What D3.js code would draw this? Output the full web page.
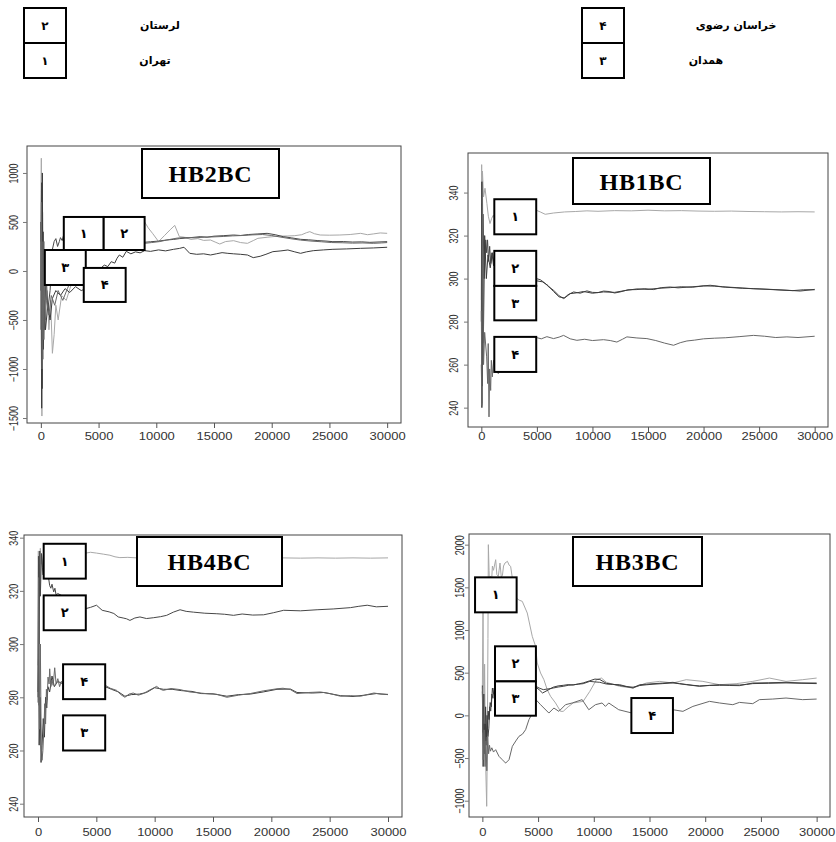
<!DOCTYPE html>
<html>
<head>
<meta charset="utf-8">
<script src="https://cdn.jsdelivr.net/npm/d3@7"></script>
<style>
  body { margin: 0; background: #fff; }
  svg { display: block; }
</style>
</head>
<body>
<div id="chart"></div>
<script>
// iteration axis shared by all four panels
const xTicks = [0, 5000, 10000, 15000, 20000, 25000, 30000];
const xDomain = [-1200, 31200];

// legend: chain number -> province
const legendLeft = [["۲", "لرستان"], ["۱", "تهران"]];
const legendRight = [["۴", "خراسان  رضوی"], ["۳", "همدان"]];

// HB2BC running means, chains 1..4  [iteration, value]
const hb2_1 = [[0,300],[40,1150],[90,-1480],[150,600],[220,-900],[300,300],[400,-500],[550,-200],[700,-600],[850,-300],[1000,-840],[1150,-650],[1300,-350],[1500,-500],[1800,-250],[2200,-300],[2600,-150],[3000,-60],[3500,250],[4500,350],[7000,420],[8990,500],[9300,440],[9700,380],[10200,300],[10700,360],[11200,420],[11600,465],[12000,350],[12400,345],[13000,322],[13600,330],[14100,312],[14700,316],[15100,295],[15500,275],[16000,300],[16700,309],[17300,290],[17900,282],[18400,310],[18800,333],[19600,344],[20500,355],[21400,357],[22000,360],[22600,370],[23000,390],[23300,401],[23700,380],[24200,367],[25000,365],[25900,367],[26800,372],[27700,384],[28300,370],[28800,378],[29400,388],[30000,384]];
const hb2_2 = [[0,-200],[60,900],[120,-1200],[200,400],[300,-600],[450,0],[600,-400],[800,-200],[1000,220],[1150,300],[1300,330],[1450,250],[1600,300],[1700,340],[1850,310],[2000,380],[3000,400],[5000,350],[7000,320],[8990,293],[9500,298],[10200,305],[10900,316],[11500,322],[12000,330],[12800,338],[13800,350],[14400,345],[15000,355],[15800,360],[16700,367],[17300,362],[18000,372],[18800,378],[19600,384],[20300,370],[21000,350],[21700,338],[22500,323],[23200,318],[24000,310],[24700,305],[25300,299],[26200,300],[27000,295],[27800,297],[28500,292],[29300,296],[30000,299]];
const hb2_3 = [[0,500],[70,-1400],[130,1000],[200,-800],[300,-300],[400,-600],[600,-350],[800,-500],[1000,-280],[1300,-200],[1700,-250],[2100,-180],[2500,-220],[3000,-160],[3500,-200],[4500,-150],[5200,30],[5500,60],[5800,45],[6100,95],[6400,80],[6600,130],[6800,163],[7100,140],[7400,200],[7800,175],[8200,195],[8600,185],[8990,207],[9500,200],[10200,215],[10800,205],[11500,221],[12000,230],[12400,242],[12900,180],[13500,170],[14100,175],[14700,163],[15200,175],[15700,187],[16200,180],[16700,175],[17300,170],[17900,163],[18400,136],[19000,150],[19500,170],[20100,197],[20800,205],[21400,214],[22000,195],[22500,180],[23000,195],[23600,207],[24500,215],[25300,221],[26500,225],[27700,231],[28800,235],[30000,242]];
const hb2_4 = [[0,-600],[50,700],[110,-1000],[180,300],[260,-700],[350,100],[500,-300],[700,-450],[900,-250],[1200,-350],[1500,-200],[1900,-300],[2300,-180],[2600,-100],[3000,100],[3500,300],[5000,320],[7000,300],[8990,282],[9600,290],[10300,300],[11000,318],[11800,335],[12500,342],[13300,338],[14200,345],[15000,348],[15800,352],[16600,358],[17500,362],[18300,368],[19200,372],[20000,362],[20800,345],[21600,330],[22500,315],[23400,305],[24300,298],[25200,290],[26100,288],[27000,284],[27900,286],[28800,282],[29500,286],[30000,290]];

// HB1BC
const hb1_1 = [[0,290],[30,353],[60,242],[100,350],[200,338],[330,342],[500,335],[630,329],[780,325.6],[930,328],[1080,329.5],[1200,328],[3000,330],[4940,331.8],[5300,331],[5750,329.9],[6500,330.5],[7500,331],[8500,331.2],[9500,331.5],[10500,331.3],[12000,331.6],[13500,331.5],[15000,331.8],[16500,331.5],[18000,331.6],[19500,331.4],[21000,331.3],[22500,331.4],[24000,331.2],[25500,331.1],[27000,331],[28500,331.1],[30000,331]];
const hb1_2 = [[0,280],[40,345],[80,250],[150,330],[250,300],[400,318],[480,312],[560,318],[650,308],[750,315],[850,307],[950,312],[1100,306],[1300,309],[3000,303],[4940,300],[5300,299.5],[5700,298],[6100,296],[6500,294.6],[7000,292],[7400,290.7],[7800,292.5],[8300,293.8],[8900,293.2],[9500,294.3],[10000,293.6],[10500,293.5],[11000,294.2],[11500,294],[12000,293.3],[12500,293.8],[13200,294.8],[14000,294.9],[14700,295.3],[15500,294.9],[16200,295.8],[17000,296.1],[17700,295.7],[18500,296],[19500,296.4],[20600,296.9],[21700,296.2],[23000,295.8],[24500,295.3],[26000,295],[27500,294.6],[28700,294.2],[30000,295]];
const hb1_3 = [[0,260],[50,240],[90,335],[180,270],[300,320],[450,300],[600,311],[800,305],[1000,312],[1200,305],[3000,301],[4940,299],[5500,298.5],[6000,296.8],[6500,294],[7000,291.5],[7500,291],[8000,293],[8600,293.4],[9200,294],[10000,293.2],[11000,293.8],[12000,293.6],[13000,294.5],[14000,295.2],[15000,295],[16000,295.5],[17000,295.8],[18000,296.2],[19000,296],[20000,296.6],[21000,296.5],[22000,296],[23500,295.5],[25000,295.2],[26500,294.8],[28000,294.4],[29000,294.8],[30000,294.8]];
const hb1_4 = [[0,285],[50,241],[100,345],[200,260],[300,275],[480,263.6],[570,251.2],[620,269.8],[690,235.7],[750,258],[840,248],[900,262],[990,254.3],[1100,262],[1230,257.4],[1530,255.8],[1700,258],[3000,265],[4940,272.6],[5400,272],[5900,273],[6500,272.1],[7000,272.8],[7400,273.6],[8000,272],[8600,271.3],[9300,271.8],[10000,271.2],[11000,271.6],[11600,271.2],[12200,270.5],[12700,271.8],[13100,272.9],[14000,272.4],[14900,272.1],[15700,271.2],[16500,270],[17300,269],[17900,270.2],[18500,271],[19200,271.4],[20000,272],[21000,272.3],[22000,272.5],[23200,273],[24500,273.6],[25500,273.2],[26500,272.6],[27500,272.9],[28500,272.6],[30000,273.2]];

// HB4BC
const hb4_1 = [[0,292],[30,335],[60,277],[100,330],[150,318],[200,336],[250,330],[300,334],[400,329],[500,334],[800,335],[2500,334],[4097,334.2],[4500,334.5],[5014,334.2],[5600,333.8],[6160,333.4],[6600,332.8],[7019,332.5],[7700,332.6],[8452,332.4],[12000,332.4],[16000,332.4],[20915,332.4],[22500,332.3],[24000,332.4],[25500,332.3],[27000,332.4],[28500,332.3],[30000,332.4]];
const hb4_2 = [[0,280],[40,333],[100,300],[150,335],[200,318],[300,334],[420,326],[700,325],[917,324.6],[1000,322],[1100,321],[1200,322.5],[1346,319.6],[1450,321],[1550,318.5],[1700,319],[3000,316],[4068,313.3],[4500,313.8],[5014,314.6],[5500,312.7],[6100,312.1],[6500,311.5],[6876,310.2],[7300,309.8],[7592,309.5],[7879,308.9],[8300,309.8],[8738,310.2],[9300,309.6],[9884,309.9],[10500,310.3],[11030,310.8],[11600,312],[12176,312.9],[12700,312.3],[13322,312],[14300,311.6],[15328,311.4],[16000,311.2],[16760,310.8],[17500,311.3],[18400,310.9],[19339,311],[20200,311.8],[21058,312.7],[22500,312.5],[23923,312.9],[25300,313.2],[26788,313.7],[27500,314.2],[28220,314.6],[29000,314],[30000,314.2]];
const hb4_3 = [[0,282],[60,300],[100,262],[180,280],[260,255.5],[350,262],[450,272],[550,265],[650,280],[750,276],[850,284],[1000,282],[1200,288],[1400,284],[1700,286],[2149,285],[3500,285],[5759,284],[6300,283],[6900,282],[7449,280.4],[8000,281],[8700,281.2],[9300,281.8],[10000,283.6],[10744,283],[11500,283],[12300,282.5],[13200,282.2],[14000,281.4],[15000,281.3],[16188,280.4],[17200,281],[18193,281.2],[19300,282],[20485,283],[21631,283.1],[22204,281.8],[23500,281.6],[24500,281.8],[25928,280.6],[27000,280.3],[28000,280.8],[29000,281.4],[30000,281]];
const hb4_4 = [[0,278],[50,325],[120,268],[200,300],[280,262],[344,256.3],[420,260],[500,267.6],[580,277.6],[650,270],[720,283],[780,279],[860,287.6],[950,285],[1003,290.7],[1100,284],[1200,286.5],[1300,284.5],[1433,291.1],[1550,285],[1700,287],[1850,284],[2000,286],[2149,285],[3500,284],[5759,284.5],[6200,283.4],[6733,282.6],[7100,281],[7449,280],[7800,281.2],[8165,281.6],[8600,280.8],[9025,281.4],[9600,282.8],[10171,284.1],[10500,283],[10744,282.6],[11400,283.3],[12176,282.9],[13000,282],[13895,281.6],[14600,281.3],[15328,281.1],[16188,280],[17200,280.8],[18193,281.4],[19300,282.4],[20485,283.2],[21000,283.4],[21631,282.9],[22204,281.4],[23200,281.8],[24209,282],[25000,281.4],[25928,280.4],[26800,280.6],[27647,280.4],[28200,281],[28793,281.6],[29400,281.2],[30000,281.1]];

// HB3BC
const hb3_1 = [[0,330],[60,1300],[120,-300],[200,600],[280,-500],[388,-1066],[440,-400],[500,900],[537,2000],[600,1700],[660,1450],[720,1629],[800,1500],[900,1750],[1000,1700],[1194,1824],[1300,1650],[1433,1629],[1500,1700],[1582,1785],[1700,1620],[1800,1640],[1900,1750],[2030,1785],[2250,1805],[2400,1760],[2537,1746],[2700,1600],[2900,1450],[3045,1375],[3300,1350],[3582,1336],[4030,1199],[4478,926],[4776,809],[4925,613],[5224,496],[5522,418],[5821,301],[6120,223],[6567,145],[7015,47],[7254,47],[7700,100],[8149,145],[9045,164],[9642,281],[10239,418],[10686,437],[11134,387],[12328,340],[13522,320],[14716,379],[15910,398],[17104,379],[18298,418],[19791,398],[21283,359],[22776,371],[24268,398],[25761,437],[27253,398],[28746,418],[30000,437]];
const hb3_2 = [[0,350],[60,-200],[130,250],[200,-450],[270,-100],[340,-350],[420,0],[500,-250],[580,-150],[660,100],[750,50],[850,250],[950,200],[1045,320],[1134,300],[2500,450],[4000,380],[4806,340],[5100,320],[5463,301],[5900,310],[6358,320],[6800,332],[7254,340],[7700,352],[8149,359],[8600,365],[9045,371],[9642,398],[10100,392],[10537,387],[11134,367],[11700,362],[12328,359],[12900,340],[13522,320],[14119,359],[14700,365],[15313,371],[16200,378],[17104,387],[17700,372],[18298,359],[18900,350],[19492,340],[20400,352],[21283,359],[22200,350],[23074,348],[23700,365],[24268,379],[25700,382],[27253,387],[28600,380],[30000,379]];
const hb3_3 = [[0,280],[70,-600],[140,-100],[210,-350],[290,100],[370,-250],[450,-150],[520,50],[600,-50],[700,150],[800,100],[900,320],[1000,250],[1134,280],[2500,350],[4000,330],[4806,330],[5100,300],[5400,262],[5800,290],[6358,330],[6800,345],[7254,352],[7700,360],[8149,355],[8600,368],[9045,380],[9642,405],[10100,425],[10537,420],[11134,375],[11700,365],[12328,350],[12900,336],[13522,330],[14119,350],[14700,358],[15313,365],[16200,372],[17104,380],[17700,370],[18298,362],[18900,352],[19492,345],[20400,350],[21283,352],[22200,356],[23074,355],[23700,362],[24268,372],[25700,376],[27253,380],[28600,376],[30000,372]];
const hb3_4 = [[0,330],[80,-520],[160,-170],[240,-600],[320,-300],[400,-650],[480,-250],[560,-450],[640,-350],[720,-420],[850,-380],[1000,-430],[1194,-402],[1490,-480],[1790,-520],[2090,-559],[2390,-520],[2690,-363],[3000,-300],[3284,-246],[3600,-220],[3881,-168],[4179,-51],[4418,8],[4806,184],[5224,125],[5970,27],[6418,86],[6865,47],[7462,125],[8060,145],[8955,184],[9552,66],[10149,125],[10746,145],[11045,105],[11343,145],[12238,66],[13432,27],[15000,60],[17104,66],[18000,47],[18895,105],[20387,164],[21283,145],[22477,125],[23074,152],[24268,137],[24865,184],[26059,191],[27253,203],[28746,184],[30000,191]];

// label boxes, given in data units: [label, x0, x1, y0, y1]
const hb2Boxes = [["۱",1988,5445,214,551],["۲",5445,8990,214,551],["۳",346,3890,-143,214],["۴",3717,7348,-316,31]];
const hb1Boxes = [["۱",1168,4940,320.6,336.9],["۲",1168,4940,296.6,312.9],["۳",1168,4940,280.6,296.6],["۴",1168,4940,256.6,272.9]];
const hb4Boxes = [["۱",487,4097,324.6,337.7],["۲",487,4097,305.2,318.3],["۴",2149,5759,279.3,292.4],["۳",2149,5759,260,273.2]];
const hb3Boxes = [["۱",-657,3075,1207,1617],["۲",1134,4806,398,809],["۳",1134,4806,-4,398],["۴",13373,17104,-207,203]];

const seriesColor = ["#a8a8a8", "#474747", "#3c3c3c", "#686868"];

const panels = [
  { title: "HB2BC", series: [hb2_1, hb2_2, hb2_3, hb2_4], boxes: hb2Boxes,
    yDomain: [-1551, 1275], yTicks: [-1500, -1000, -500, 0, 500, 1000],
    l: 27, t: 146, r: 401, b: 423, tb: [142, 149, 279, 198], xLab: 14, yLab: -9 },
  { title: "HB1BC", series: [hb1_1, hb1_2, hb1_3, hb1_4], boxes: hb1Boxes,
    yDomain: [231, 358.4], yTicks: [240, 260, 280, 300, 320, 340],
    l: 468, t: 153, r: 828, b: 427, tb: [573, 158, 710, 204], xLab: 10, yLab: -10 },
  { title: "HB4BC", series: [hb4_1, hb4_2, hb4_3, hb4_4], boxes: hb4Boxes,
    yDomain: [235, 341], yTicks: [240, 260, 280, 300, 320, 340],
    l: 24, t: 535, r: 402, b: 817, tb: [137, 537, 282, 586], xLab: 16, yLab: -6 },
  { title: "HB3BC", series: [hb3_1, hb3_2, hb3_3, hb3_4], boxes: hb3Boxes,
    yDomain: [-1191, 2125], yTicks: [-1000, -500, 0, 500, 1000, 1500, 2000],
    l: 469, t: 534, r: 830, b: 817, tb: [573, 537, 702, 586], xLab: 16, yLab: -5 }
];

const svg = d3.select("#chart").append("svg")
  .attr("width", 836)
  .attr("height", 842);

// top legend
function drawLegend(items, bx, tx) {
  const g = svg.append("g");
  items.forEach((d, i) => {
    g.append("rect")
      .attr("x", bx).attr("y", 8 + i * 35)
      .attr("width", 42).attr("height", 35)
      .attr("fill", "#fff").attr("stroke", "#000").attr("stroke-width", 2);
    g.append("text")
      .attr("x", bx + 21).attr("y", 8 + i * 35 + 17.5)
      .attr("dy", "0.35em").attr("text-anchor", "middle")
      .style("font", "bold 12px 'DejaVu Sans'")
      .text(d[0]);
    g.append("text")
      .attr("x", tx[i]).attr("y", 8 + i * 35 + 17)
      .attr("dy", "0.35em").attr("text-anchor", "middle")
      .style("font", "bold 11px 'DejaVu Sans'")
      .text(d[1]);
  });
}
drawLegend(legendLeft, 24, [160, 155]);
drawLegend(legendRight, 582, [736, 706]);

panels.forEach((p, pi) => {
  const x = d3.scaleLinear().domain(xDomain).range([p.l, p.r]);
  const y = d3.scaleLinear().domain(p.yDomain).range([p.b, p.t]);
  const g = svg.append("g");

  g.append("clipPath").attr("id", "clip" + pi)
    .append("rect")
    .attr("x", p.l).attr("y", p.t)
    .attr("width", p.r - p.l).attr("height", p.b - p.t);

  const line = d3.line().x(d => x(d[0])).y(d => y(d[1]));

  g.append("g").attr("clip-path", `url(#clip${pi})`)
    .selectAll("path")
    .data(p.series)
    .enter().append("path")
    .attr("d", line)
    .attr("fill", "none")
    .attr("stroke", (d, i) => seriesColor[i])
    .attr("stroke-width", 1);

  // chain label boxes
  const box = g.selectAll(".lab")
    .data(p.boxes)
    .enter().append("g").attr("class", "lab");
  box.append("rect")
    .attr("x", d => x(d[1])).attr("y", d => y(d[4]))
    .attr("width", d => x(d[2]) - x(d[1]))
    .attr("height", d => y(d[3]) - y(d[4]))
    .attr("fill", "#fff").attr("stroke", "#000").attr("stroke-width", 2);
  box.append("text")
    .attr("x", d => (x(d[1]) + x(d[2])) / 2)
    .attr("y", d => (y(d[3]) + y(d[4])) / 2)
    .attr("dy", "0.35em").attr("text-anchor", "middle")
    .style("font", "bold 13px 'DejaVu Sans'")
    .text(d => d[0]);

  // title box
  g.append("rect")
    .attr("x", p.tb[0]).attr("y", p.tb[1])
    .attr("width", p.tb[2] - p.tb[0]).attr("height", p.tb[3] - p.tb[1])
    .attr("fill", "#fff").attr("stroke", "#000").attr("stroke-width", 2);
  g.append("text")
    .attr("x", (p.tb[0] + p.tb[2]) / 2).attr("y", (p.tb[1] + p.tb[3]) / 2)
    .attr("dy", "0.36em").attr("text-anchor", "middle")
    .style("font", "bold 24px 'Liberation Serif'")
    .style("letter-spacing", "0.8px")
    .text(p.title);

  // frame
  g.append("rect")
    .attr("x", p.l).attr("y", p.t)
    .attr("width", p.r - p.l).attr("height", p.b - p.t)
    .attr("fill", "none").attr("stroke", "#444").attr("stroke-width", 1);

  // axes
  const xa = g.append("g")
    .attr("transform", `translate(0,${p.b})`)
    .call(d3.axisBottom(x).tickValues(xTicks).tickSize(5).tickFormat(d3.format("d")));
  xa.select(".domain").remove();
  xa.selectAll("line").attr("stroke", "#555");
  xa.selectAll("text")
    .attr("y", p.xLab).attr("dy", "0.35em")
    .attr("transform", "scale(1.3,1)")
    .attr("fill", "#333")
    .style("font", "10px 'Liberation Sans'");

  const ya = g.append("g")
    .attr("transform", `translate(${p.l},0)`)
    .call(d3.axisLeft(y).tickValues(p.yTicks).tickSize(4).tickFormat(d3.format("d")));
  ya.select(".domain").remove();
  ya.selectAll("line").attr("stroke", "#777");
  ya.selectAll("text")
    .attr("x", 0).attr("y", 0).attr("dy", 0)
    .attr("text-anchor", "middle")
    .attr("transform", `translate(${p.yLab},0) scale(1.35,1) rotate(-90)`)
    .attr("fill", "#333")
    .style("font", "9px 'Liberation Sans'");
});
</script>
</body>
</html>
